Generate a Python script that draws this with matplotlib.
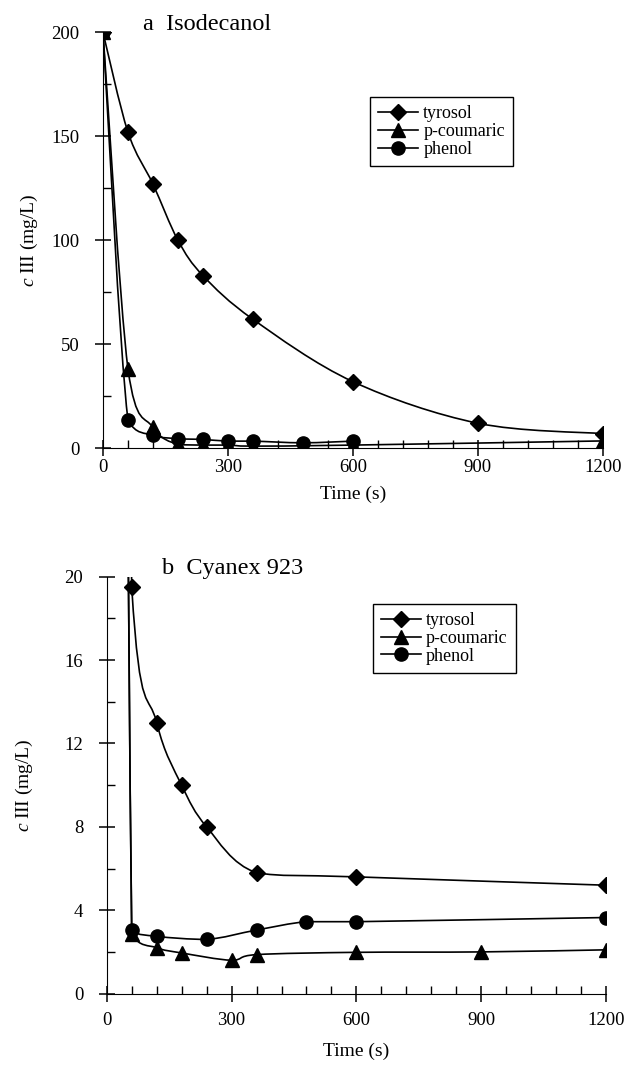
import numpy as np
import matplotlib
matplotlib.use("Agg")
import matplotlib.pyplot as plt
from matplotlib.path import Path
from matplotlib.patches import PathPatch
from matplotlib.lines import Line2D
from matplotlib.ticker import MultipleLocator

plt.rcParams['font.family'] = ['Liberation Serif', 'DejaVu Serif']
plt.rcParams['mathtext.fontset'] = 'custom'
plt.rcParams['mathtext.it'] = 'Liberation Serif:italic'
plt.rcParams['mathtext.rm'] = 'Liberation Serif'

# panel a: isodecanol
a_tyr_t = [0, 60, 120, 180, 240, 360, 600, 900, 1200]
a_tyr_c = [200, 152, 127, 100, 83, 62, 32, 12, 7]
a_cou_t = [0, 60, 120, 180, 240, 300, 360, 600, 1200]
a_cou_c = [200, 38, 10, 1.8, 1.5, 1.5, 1.0, 1.5, 3.5]
a_phe_t = [0, 60, 120, 180, 240, 300, 360, 480, 600]
a_phe_c = [200, 13.5, 6.2, 4.6, 4.2, 3.4, 3.4, 2.6, 3.4]

# panel b: cyanex 923
b_tyr_t = [0, 60, 120, 180, 240, 360, 600, 1200]
b_tyr_c = [200, 19.5, 13.0, 10.0, 8.0, 5.8, 5.6, 5.2]
b_cou_t = [0, 60, 120, 180, 300, 360, 600, 900, 1200]
b_cou_c = [200, 2.85, 2.2, 1.95, 1.6, 1.87, 1.98, 2.0, 2.1]
b_phe_t = [0, 60, 120, 240, 360, 480, 600, 1200]
b_phe_c = [200, 3.05, 2.75, 2.6, 3.05, 3.45, 3.45, 3.65]

names = ['tyrosol', 'p-coumaric', 'phenol']
markers = ['D', '^', 'o']
msizes = [8.5, 10, 9.5]


def smooth_path(x, y):
    # smoothed line like excel's, control points kept inside each segment
    # so the curve does not overshoot after the big drop from 200
    x = np.asarray(x, float)
    y = np.asarray(y, float)
    verts = [(x[0], y[0])]
    codes = [Path.MOVETO]
    n = len(x)
    for i in range(n - 1):
        i0 = max(i - 1, 0)
        i3 = min(i + 2, n - 1)
        lo, hi = min(y[i], y[i + 1]), max(y[i], y[i + 1])
        c1 = (x[i] + (x[i + 1] - x[i0]) / 6,
              np.clip(y[i] + (y[i + 1] - y[i0]) / 6, lo, hi))
        c2 = (x[i + 1] - (x[i3] - x[i]) / 6,
              np.clip(y[i + 1] - (y[i3] - y[i]) / 6, lo, hi))
        verts += [c1, c2, (x[i + 1], y[i + 1])]
        codes += [Path.CURVE4] * 3
    return Path(verts, codes)


def panel(ax, series, ymax, ystep, title, title_x, leg_xy, xpad, xlpad, ylpad):
    for (t, c), m, ms in zip(series, markers, msizes):
        ax.add_patch(PathPatch(smooth_path(t, c), fill=False, color='black',
                               lw=1.2, clip_on=True))
        ax.plot(t, c, ls='none', marker=m, ms=ms, color='black', clip_on=True)
    ax.set_xlim(0, 1200)
    ax.set_ylim(0, ymax)
    ax.spines['top'].set_visible(False)
    ax.spines['right'].set_visible(False)
    ax.xaxis.set_major_locator(MultipleLocator(300))
    ax.xaxis.set_minor_locator(MultipleLocator(60))
    ax.yaxis.set_major_locator(MultipleLocator(ystep))
    ax.yaxis.set_minor_locator(MultipleLocator(ystep / 2))
    ax.tick_params(which='major', direction='inout', length=12, width=1.1,
                   labelsize=13.5)
    ax.tick_params(which='minor', direction='in', length=6, width=1.0)
    ax.tick_params(axis='x', which='major', pad=xpad)
    ax.tick_params(axis='y', which='major', pad=11)
    ax.set_xlabel('Time (s)', fontsize=14, labelpad=xlpad)
    ax.set_ylabel('$c$ III (mg/L)', fontsize=14, labelpad=ylpad)
    ax.text(title_x, 1.02, title, transform=ax.transAxes, fontsize=17.5,
            va='center', ha='left')
    handles = [Line2D([], [], color='black', lw=1.2, marker=m, ms=ms)
               for m, ms in zip(markers, msizes)]
    leg = ax.legend(handles, names, loc='upper left', bbox_to_anchor=leg_xy,
                    fontsize=13, frameon=True, fancybox=False,
                    edgecolor='black', framealpha=1, handlelength=2.2,
                    labelspacing=0.05, borderpad=0.45, handletextpad=0.3,
                    borderaxespad=0)
    leg.get_frame().set_linewidth(1.0)


fig = plt.figure(figsize=(6.28, 10.8), dpi=100)
ax1 = fig.add_axes([0.164, 0.585, 0.796, 0.385])
ax2 = fig.add_axes([0.170, 0.080, 0.795, 0.386])

panel(ax1, [(a_tyr_t, a_tyr_c), (a_cou_t, a_cou_c), (a_phe_t, a_phe_c)],
      200, 50, 'a  Isodecanol', 0.08, (0.534, 0.844), 2, 7, 8)
panel(ax2, [(b_tyr_t, b_tyr_c), (b_cou_t, b_cou_c), (b_phe_t, b_phe_c)],
      20, 4, 'b  Cyanex 923', 0.11, (0.533, 0.935), 7, 10, 21)

fig.savefig('out.png', dpi=100)
